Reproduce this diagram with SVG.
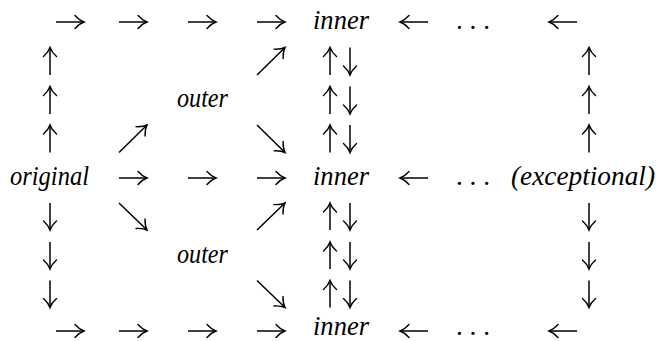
<svg xmlns="http://www.w3.org/2000/svg" width="656" height="341" viewBox="0 0 656 341">
<style>
.t{font-family:"Liberation Serif","DejaVu Serif",serif;font-style:italic;font-size:27px;fill:#000}
.d{font-family:"Liberation Serif","DejaVu Serif",serif;font-size:27px;fill:#000}
.a{stroke:#000;stroke-width:1.5;fill:none;marker-end:url(#h)}
</style>
<defs>
<marker id="h" markerUnits="userSpaceOnUse" viewBox="-11 -8 13 16" refX="0" refY="0" markerWidth="13" markerHeight="16" orient="auto">
<path d="M-9,-6.5 Q-4.5,-1.5 0,0 Q-4.5,1.5 -9,6.5" stroke="#000" stroke-width="1.4" fill="none" stroke-linecap="round"/>
</marker>
</defs>
<rect width="656" height="341" fill="#fff"/>
<g id="nodes">
<g id="inner-top"><text class="t" x="313" y="29" textLength="56" lengthAdjust="spacingAndGlyphs">inner</text></g>
<g id="dots-top"><text class="d" x="456" y="29" textLength="34" lengthAdjust="spacingAndGlyphs">. . .</text></g>
<g id="outer-top"><text class="t" x="177" y="107" textLength="51" lengthAdjust="spacingAndGlyphs">outer</text></g>
<g id="original"><text class="t" x="10" y="185" textLength="79" lengthAdjust="spacingAndGlyphs">original</text></g>
<g id="inner-mid"><text class="t" x="313" y="185" textLength="56" lengthAdjust="spacingAndGlyphs">inner</text></g>
<g id="dots-mid"><text class="d" x="456" y="185" textLength="34" lengthAdjust="spacingAndGlyphs">. . .</text></g>
<g id="exceptional"><text class="t" x="511" y="185" textLength="144" lengthAdjust="spacingAndGlyphs">(exceptional)</text></g>
<g id="outer-bottom"><text class="t" x="177" y="263" textLength="51" lengthAdjust="spacingAndGlyphs">outer</text></g>
<g id="inner-bottom"><text class="t" x="313" y="335" textLength="56" lengthAdjust="spacingAndGlyphs">inner</text></g>
<g id="dots-bottom"><text class="d" x="456" y="335" textLength="34" lengthAdjust="spacingAndGlyphs">. . .</text></g>
</g>
<g id="connectors">
<line class="a" x1="56" y1="22" x2="84" y2="22"/>
<line class="a" x1="119" y1="22" x2="147" y2="22"/>
<line class="a" x1="188" y1="22" x2="216" y2="22"/>
<line class="a" x1="257" y1="22" x2="285" y2="22"/>
<line class="a" x1="428" y1="22" x2="400" y2="22"/>
<line class="a" x1="577" y1="22" x2="549" y2="22"/>
<line class="a" x1="50" y1="75" x2="50" y2="47.5"/>
<line class="a" x1="257" y1="75" x2="285" y2="47.5"/>
<line class="a" x1="330" y1="75" x2="330" y2="47.5"/>
<line class="a" x1="350" y1="47.5" x2="350" y2="75"/>
<line class="a" x1="589" y1="75" x2="589" y2="47.5"/>
<line class="a" x1="50" y1="114" x2="50" y2="86.5"/>
<line class="a" x1="330" y1="114" x2="330" y2="86.5"/>
<line class="a" x1="350" y1="86.5" x2="350" y2="114"/>
<line class="a" x1="589" y1="114" x2="589" y2="86.5"/>
<line class="a" x1="50" y1="152.5" x2="50" y2="125"/>
<line class="a" x1="119" y1="152.5" x2="147" y2="125"/>
<line class="a" x1="257" y1="125" x2="285" y2="152.5"/>
<line class="a" x1="330" y1="152.5" x2="330" y2="125"/>
<line class="a" x1="350" y1="125" x2="350" y2="152.5"/>
<line class="a" x1="589" y1="152.5" x2="589" y2="125"/>
<line class="a" x1="119" y1="178" x2="147" y2="178"/>
<line class="a" x1="188" y1="178" x2="216" y2="178"/>
<line class="a" x1="257" y1="178" x2="285" y2="178"/>
<line class="a" x1="428" y1="178" x2="400" y2="178"/>
<line class="a" x1="50" y1="203" x2="50" y2="230"/>
<line class="a" x1="119" y1="203" x2="147" y2="230"/>
<line class="a" x1="257" y1="230" x2="285" y2="203"/>
<line class="a" x1="330" y1="230" x2="330" y2="203"/>
<line class="a" x1="350" y1="203" x2="350" y2="230"/>
<line class="a" x1="589" y1="203" x2="589" y2="230"/>
<line class="a" x1="50" y1="242" x2="50" y2="269"/>
<line class="a" x1="330" y1="269" x2="330" y2="242"/>
<line class="a" x1="350" y1="242" x2="350" y2="269"/>
<line class="a" x1="589" y1="242" x2="589" y2="269"/>
<line class="a" x1="50" y1="280.5" x2="50" y2="307.5"/>
<line class="a" x1="257" y1="280.5" x2="285" y2="307.5"/>
<line class="a" x1="330" y1="307.5" x2="330" y2="280.5"/>
<line class="a" x1="350" y1="280.5" x2="350" y2="307.5"/>
<line class="a" x1="589" y1="280.5" x2="589" y2="307.5"/>
<line class="a" x1="56" y1="331" x2="84" y2="331"/>
<line class="a" x1="119" y1="331" x2="147" y2="331"/>
<line class="a" x1="188" y1="331" x2="216" y2="331"/>
<line class="a" x1="257" y1="331" x2="285" y2="331"/>
<line class="a" x1="428" y1="331" x2="400" y2="331"/>
<line class="a" x1="577" y1="331" x2="549" y2="331"/>
</g>
</svg>
